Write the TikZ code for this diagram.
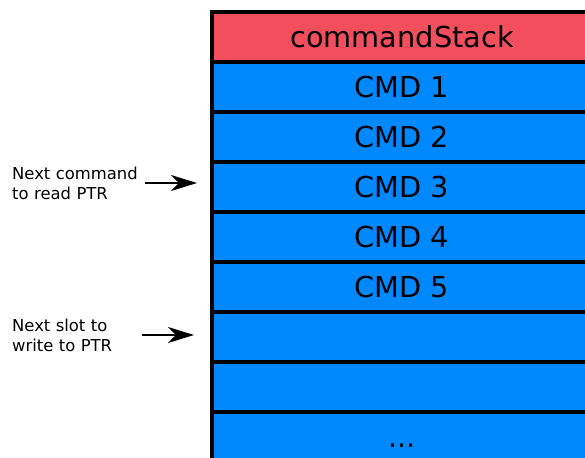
\documentclass[tikz,border=0pt]{standalone}
\usepackage{fontspec}
\setmainfont{DejaVu Sans}
\usetikzlibrary{arrows.meta,positioning}
\definecolor{stackred}{HTML}{F24E5E}
\definecolor{slotblue}{HTML}{0088FF}

\tikzset{
  slot/.style={draw=black, line width=4.5pt, fill=slotblue, minimum width=380pt, minimum height=50pt,
    outer sep=0pt, inner sep=0pt, text height=20.5pt, text depth=0pt, font=\fontsize{28.8}{34}\selectfont},
  ptrlabel/.style={text width=130pt, align=left, inner sep=0pt, font=\fontsize{16.4}{20}\selectfont},
  ptr/.style={-{Stealth[length=26pt,width=16pt,inset=8pt]}, line width=1.8pt, shorten <=3pt, shorten >=15pt}
}

\begin{document}
\begin{tikzpicture}[x=1pt,y=1pt]
  \useasboundingbox (0,0) rectangle (585,-457);
  \begin{scope}
    \clip (0,0) rectangle (585,-457);
    \node[slot, fill=stackred, anchor=north west] (head) at (212,-12) {commandStack};
    \node[slot, below=0pt of head] (cmd1) {CMD 1};
    \node[slot, below=0pt of cmd1] (cmd2) {CMD 2};
    \node[slot, below=0pt of cmd2] (cmd3) {CMD 3};
    \node[slot, below=0pt of cmd3] (cmd4) {CMD 4};
    \node[slot, below=0pt of cmd4] (cmd5) {CMD 5};
    \node[slot, below=0pt of cmd5] (free1) {};
    \node[slot, below=0pt of free1] (free2) {};
    \node[slot, below=0pt of free2] (more) {...};
  \end{scope}

  % pointers into the stack
  \node[ptrlabel, anchor=west] (readlbl) at (12,-183) {Next command\\to read PTR};
  \node[ptrlabel, anchor=west] (writelbl) at (12,-335) {Next slot to\\write to PTR};
  \draw[ptr] (readlbl.east) -- (readlbl.east -| cmd3.west);
  \draw[ptr] ([xshift=-3pt]writelbl.east) -- ([xshift=-3pt]writelbl.east -| free1.west);
\end{tikzpicture}
\end{document}
